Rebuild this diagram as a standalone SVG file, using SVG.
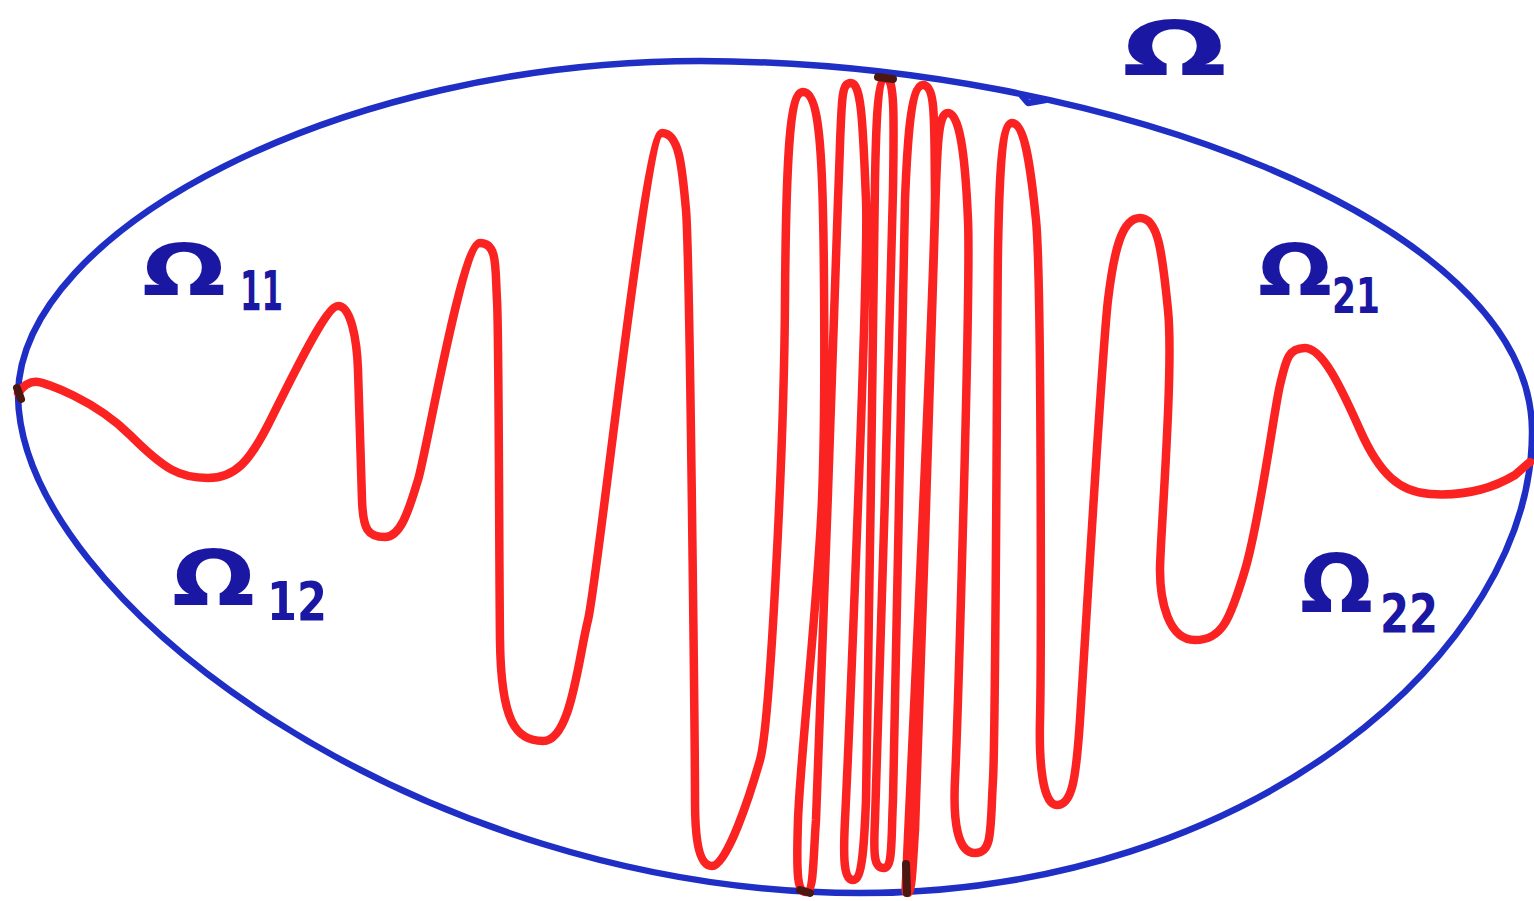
<svg xmlns="http://www.w3.org/2000/svg" width="1534" height="901" viewBox="0 0 1534 901">
<style>
.bnd{fill:none;stroke:#1f2fc6;stroke-width:6.5;stroke-linecap:round;stroke-linejoin:round}
.crv{fill:none;stroke:#fb2222;stroke-width:8.5;stroke-linecap:round;stroke-linejoin:round}
.dark{fill:none;stroke:#4a1712;stroke-width:8;stroke-linecap:round}
.om{font-family:"DejaVu Sans",sans-serif;font-weight:bold;fill:#1a17a2}
</style>
<rect width="1534" height="901" fill="#ffffff"/>
<g id="domain">
<path class="bnd" d="M18,395 C20,230 340,61 700,61 C1100,62 1530,220 1532,430 C1534,650 1250,893 860,893 C420,893 20,600 18,395 Z"/>
<path class="bnd" d="M1022,96 L1028,103 L1045,100"/>
</g>
<g id="interface">
<path class="crv" d="M18,393 C24,385 30,381 38,382 S95,400 130,435 S180,478 208,478 S250,460 268,425 S325,306 338,306 S357,340 358,370 S361,470 362,500 S368,537 385,537 S410,505 418,480 S462,243 480,243 S495,268 497,300 S499,560 500,640 S515,741 543,741 S578,660 588,620 S645,133 662,133 S682,165 686,210 S695,770 695,800 S697,866 712,866 S750,795 760,760 S784,450 785,300 S790,92 803,92 S820,130 822,180 S826,400 822,500 S800,760 798,820 S798,892 806,892 S813,860 816,820 S834,300 838,200 S840,83 851,83 S863,130 866,200 S847,780 845,820 S844,880 853,880 S864,850 866,800 S874,230 875,180 S877,78 886,78 S894,120 893,190 S877,780 875,820 S875,868 884,868 S891,840 893,800 S903,250 905,200 S910,85 923,85 S934,120 935,190 S908,830 907,860 S904,893 908,893 S913,860 915,830 S931,350 934,250 S937,113 948,113 S965,150 968,220 S957,740 955,780 S957,853 975,853 S990,830 993,780 S997,300 998,250 S1000,123 1012,123 S1030,160 1036,220 S1041,680 1040,720 S1042,805 1057,805 S1076,780 1080,720 S1102,350 1108,300 S1122,218 1140,218 S1162,250 1168,310 S1160,540 1160,570 S1168,640 1195,640 S1230,620 1245,570 S1274,410 1280,385 S1288,348 1305,348 S1340,385 1360,430 S1400,492 1430,494 S1490,490 1515,475 L1530,462"/>
<path class="dark" d="M17,388 L21,399"/>
<path class="dark" d="M878,77 L893,79"/>
<path class="dark" d="M800,890 L810,893"/>
<path class="dark" d="M906,864 L907,893"/>
</g>
<g id="label-omega">
<text class="om" x="1122" y="75" font-size="75" textLength="105" lengthAdjust="spacingAndGlyphs">Ω</text>
</g>
<g id="label-omega11">
<text class="om" x="142" y="295" font-size="72" textLength="84" lengthAdjust="spacingAndGlyphs">Ω</text>
<text class="om" x="240" y="310" font-size="56" textLength="43" lengthAdjust="spacingAndGlyphs">11</text>
</g>
<g id="label-omega12">
<text class="om" x="172" y="605" font-size="76" textLength="83" lengthAdjust="spacingAndGlyphs">Ω</text>
<text class="om" x="267" y="620" font-size="54" textLength="60" lengthAdjust="spacingAndGlyphs">12</text>
</g>
<g id="label-omega21">
<text class="om" x="1258" y="295" font-size="72" textLength="74" lengthAdjust="spacingAndGlyphs">Ω</text>
<text class="om" x="1332" y="313" font-size="50" textLength="48" lengthAdjust="spacingAndGlyphs">21</text>
</g>
<g id="label-omega22">
<text class="om" x="1300" y="612" font-size="80" textLength="73" lengthAdjust="spacingAndGlyphs">Ω</text>
<text class="om" x="1380" y="632" font-size="54" textLength="58" lengthAdjust="spacingAndGlyphs">22</text>
</g>
</svg>
